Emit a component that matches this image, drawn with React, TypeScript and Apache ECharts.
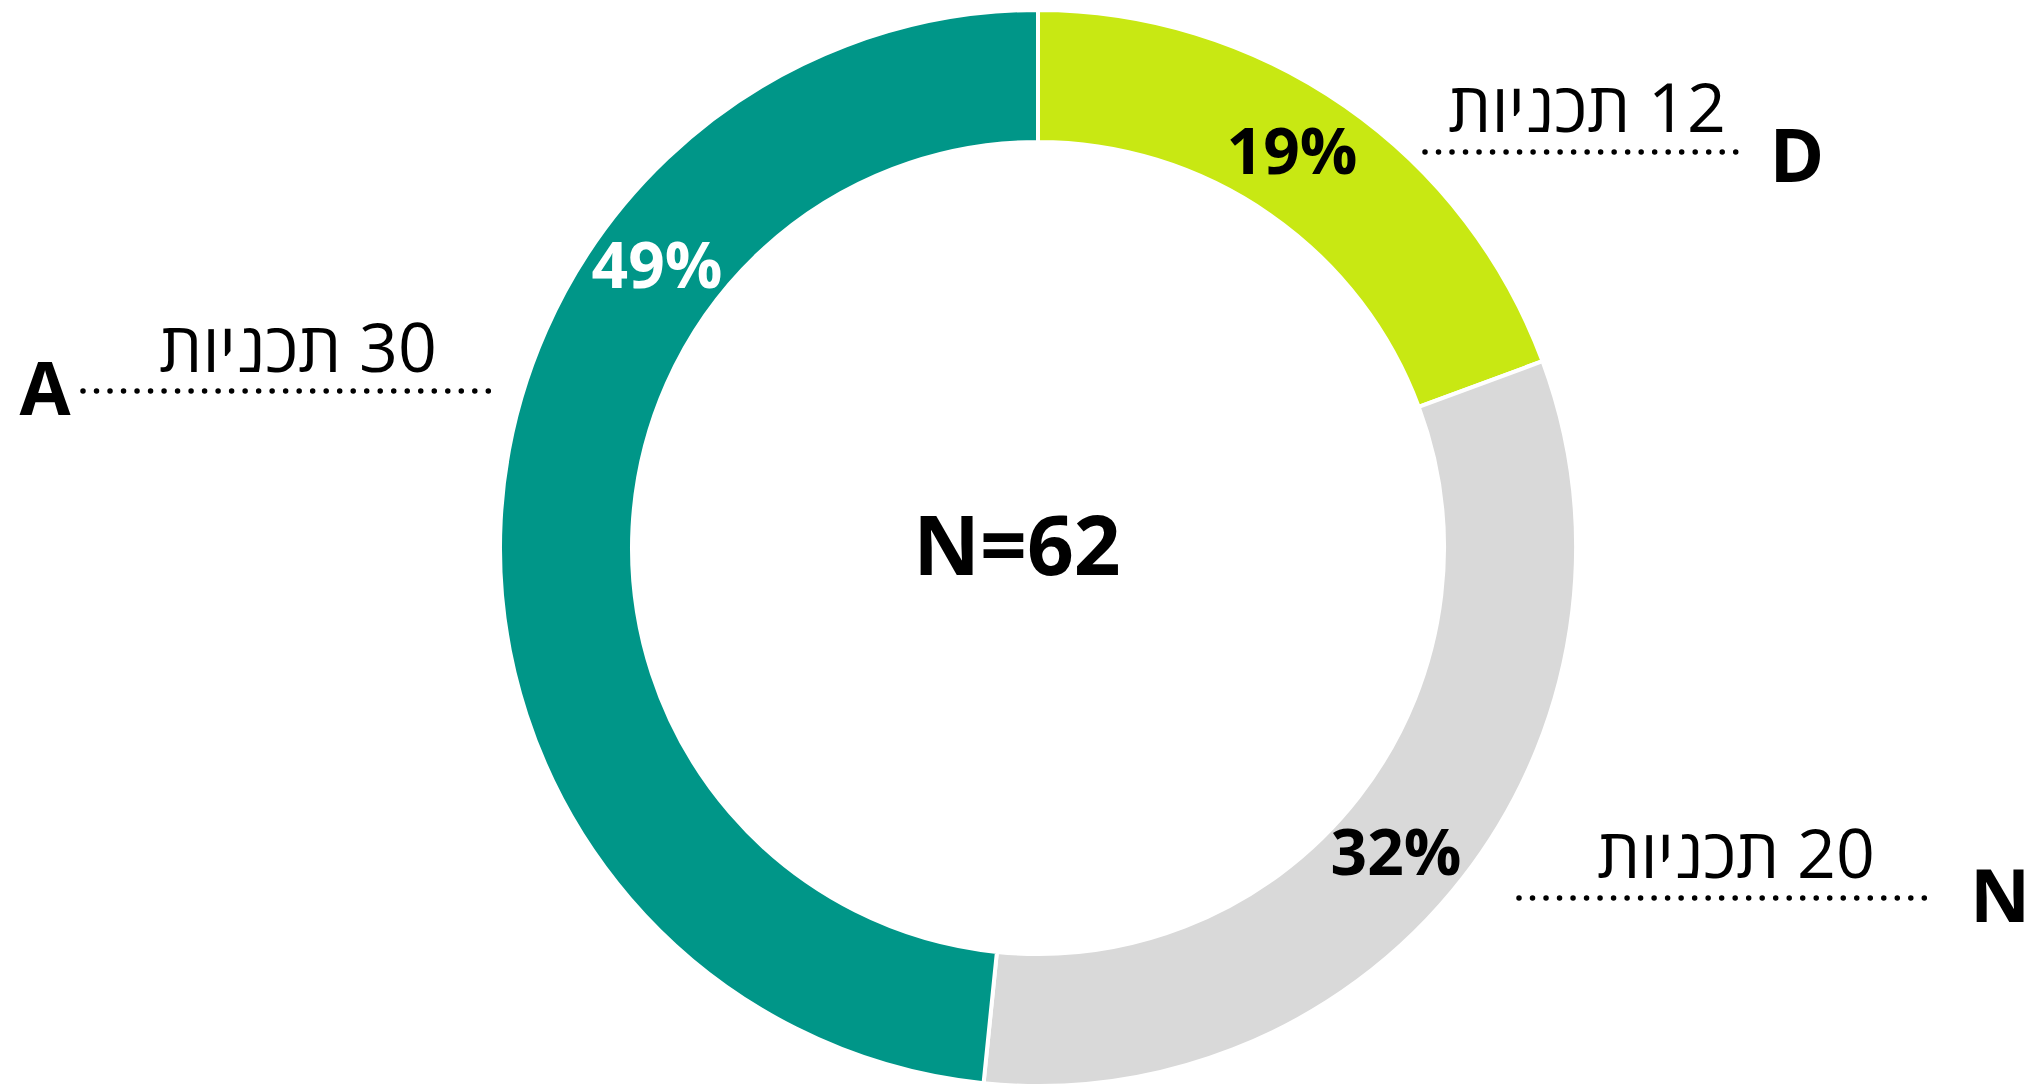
import React, { useEffect, useRef } from "react";
import * as echarts from "echarts";

// ---- data ----
const categories = ["D", "N", "A"];
const values = [12, 20, 30];
const percentLabels = ["19%", "32%", "49%"];
const countWord = "תכניות";
const colors = ["#C8E813", "#D9D9D9", "#009688"];
const percentColors = ["#000000", "#000000", "#FFFFFF"];

// ---- layout (positions only) ----
const pctPos = [
  [1292, 149],
  [1396, 850],
  [657, 263],
];
const countPos = [
  [1587, 105],
  [1736, 851],
  [298, 345],
];
const letterPos = [
  [1797, 153],
  [2000, 893],
  [45, 386],
];
const dotLines = [
  [1425, 152, 1742, 152],
  [1519, 898, 1933, 898],
  [83, 391, 493, 391],
];

const FONT = "'Open Sans', 'Noto Sans', 'DejaVu Sans', sans-serif";

export default function App() {
  const ref = useRef<HTMLDivElement>(null);
  useEffect(() => {
    document.body.style.margin = "0";
    const chart = echarts.init(ref.current!, undefined, { renderer: "svg" });
    const total = values.reduce((a, b) => a + b, 0);
    const graphic: any[] = [];
    categories.forEach((c, i) => {
      graphic.push({
        type: "text",
        z: 100,
        x: pctPos[i][0],
        y: pctPos[i][1],
        style: {
          text: percentLabels[i],
          fill: percentColors[i],
          font: `bold 64px ${FONT}`,
          textAlign: "center",
          textVerticalAlign: "middle",
        },
      });
      graphic.push({
        type: "text",
        z: 100,
        x: countPos[i][0],
        y: countPos[i][1],
        style: {
          text: "\u200F" + values[i] + " " + countWord,
          fill: "#000",
          font: `normal 68px ${FONT}`,
          textAlign: "center",
          textVerticalAlign: "middle",
        },
      });
      graphic.push({
        type: "text",
        z: 100,
        x: letterPos[i][0],
        y: letterPos[i][1],
        style: {
          text: c,
          fill: "#000",
          font: `bold 74px ${FONT}`,
          textAlign: "center",
          textVerticalAlign: "middle",
        },
      });
      const l = dotLines[i];
      graphic.push({
        type: "line",
        z: 100,
        shape: { x1: l[0], y1: l[1], x2: l[2], y2: l[3] },
        style: {
          stroke: "#000",
          lineWidth: 5.5,
          lineDash: [0.01, 13.5],
          lineCap: "round",
        },
      });
    });
    graphic.push({
      type: "text",
      z: 100,
      x: 1017,
      y: 543,
      style: {
        text: "N=" + total,
        fill: "#000",
        font: `bold 82px ${FONT}`,
        textAlign: "center",
        textVerticalAlign: "middle",
      },
    });

    chart.setOption({
      animation: false,
      backgroundColor: "#fff",
      series: [
        {
          type: "pie",
          z: 1,
          center: [1038, 548],
          radius: [406, 538],
          startAngle: 90,
          clockwise: true,
          label: { show: false },
          labelLine: { show: false },
          emphasis: { disabled: true },
          itemStyle: { borderColor: "#fff", borderWidth: 4 },
          data: categories.map((c, i) => ({
            name: c,
            value: values[i],
            itemStyle: { color: colors[i] },
          })),
        },
      ],
      graphic,
    });
    return () => chart.dispose();
  }, []);
  return <div ref={ref} style={{ width: 2031, height: 1088 }} />;
}
